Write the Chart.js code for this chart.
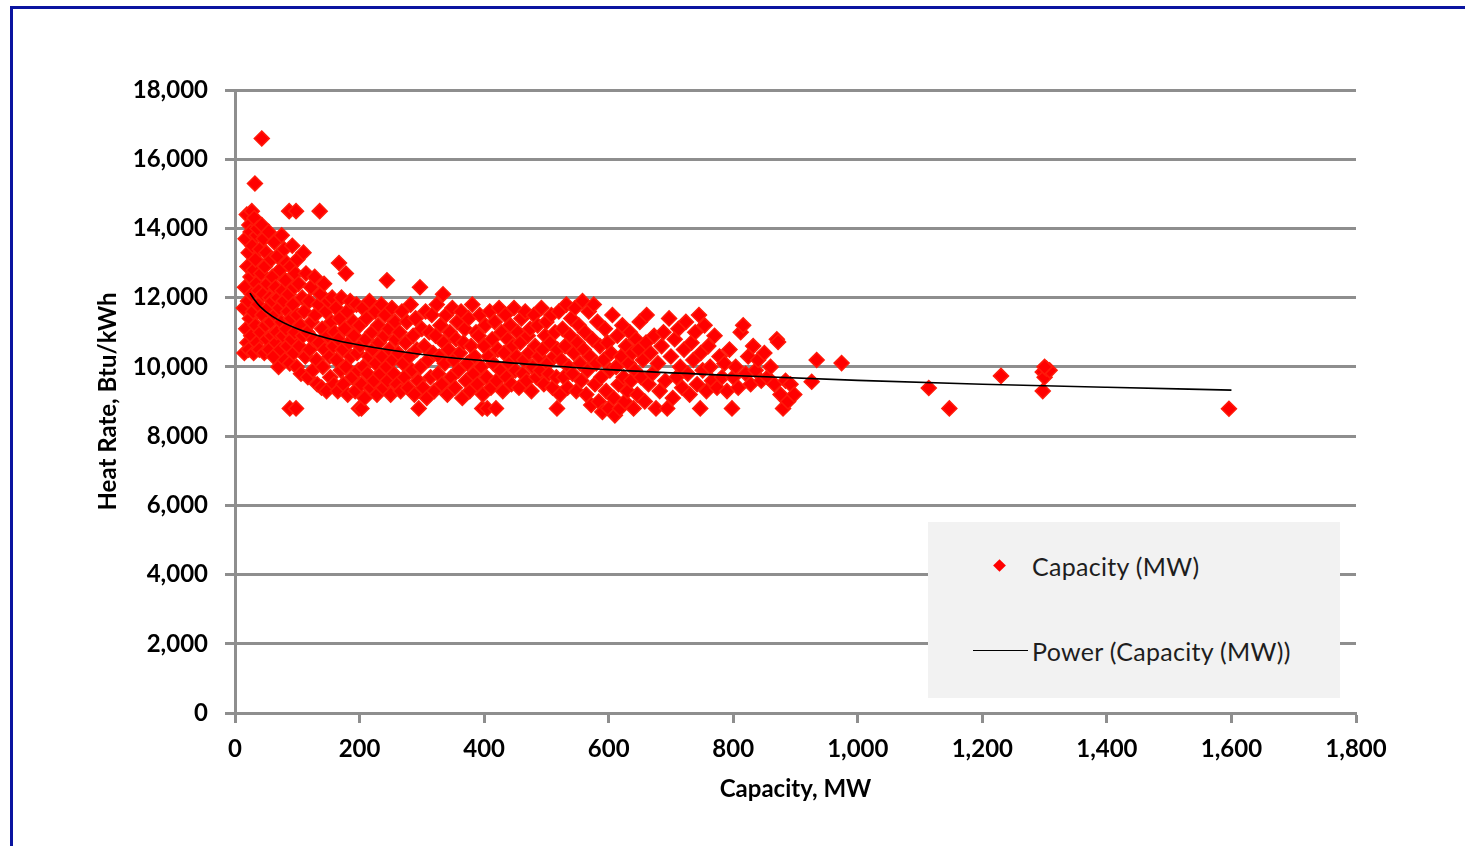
<!DOCTYPE html>
<html>
<head>
<meta charset="utf-8">
<title>Heat Rate vs Capacity</title>
<script src="https://cdn.jsdelivr.net/npm/chart.js@4.4.1/dist/chart.umd.min.js"></script>
<style>
  html, body { margin: 0; padding: 0; background: #fff; overflow: hidden; }
  #frame {
    position: absolute; left: 10px; top: 6px; width: 1500px; height: 900px;
    border: 3px solid #0a14a0; pointer-events: none;
  }
  #wrap { position: absolute; left: 0; top: 0; width: 1465px; height: 846px; }
  #legend {
    position: absolute; left: 928px; top: 522px; width: 412px; height: 176px;
    background: #f2f2f2; font-family: Lato, "Open Sans", sans-serif; font-size: 25px; color: #1e1e1e;
  }
  .item { position: absolute; left: 0; height: 30px; width: 100%; }
  .item .txt { position: absolute; left: 104px; top: 0; line-height: 30px; white-space: nowrap; letter-spacing: 0.3px; }
  .item .diamond {
    position: absolute; left: 67px; top: 10px; width: 9px; height: 9px;
    background: #ff0000; transform: rotate(45deg);
  }
  .item .line { position: absolute; left: 45px; top: 14px; width: 55px; height: 1px; background: #000; }
</style>
</head>
<body>
<div id="wrap"><canvas id="chart" width="1465" height="846"></canvas></div>
<div id="legend"></div>
<div id="frame"></div>
<script>
// Axis setup
const xTicksMax = 1800, xStep = 200;
const yTicksMax = 18000, yStep = 2000;

// Plants, [capacity MW, heat rate Btu/kWh]
const unitsUpTo60 = [
  [14,11700],[15,10400],[16,12300],[17,13700],[18,11100],[19,14400],[20,10700],[20,12900],
  [21,11900],[22,13300],[22,10500],[23,14100],[24,11400],[25,12600],[25,13900],[26,10900],
  [27,12100],[27,14500],[28,13500],[29,11600],[30,10400],[30,12800],[31,14300],[32,15300],
  [33,11200],[33,13100],[34,12400],[35,10700],[35,13800],[36,14000],[37,11800],[38,12200],
  [39,10500],[40,13400],[41,11000],[42,12700],[43,16600],[43,14100],[44,11500],[45,12100],
  [46,13700],[47,10400],[48,12900],[49,11200],[50,13300],[51,10800],[52,12400],[53,11700],
  [54,13900],[55,10500],[56,12000],[57,11300],[58,13100],[59,10900],[60,12600],[60,11900]
];
const units61to160 = [
  [62,10300],[63,13600],[64,11500],[65,12300],[66,10700],[67,11000],[68,13200],[69,12000],
  [70,10000],[71,11700],[72,12800],[73,10500],[74,11300],[75,13800],[76,12200],[77,10900],
  [78,11900],[79,13400],[80,10200],[81,12500],[82,11100],[83,13000],[84,10600],[85,11600],
  [86,12100],[87,14500],[88,8800],[88,10100],[89,12900],[90,11400],[91,10800],[92,13500],
  [93,11800],[94,10400],[95,12300],[96,11000],[97,12700],[98,14500],[98,8800],[99,10000],
  [100,11500],[100,13100],[102,12400],[103,10600],[105,11200],[106,9800],[108,12000],[109,10900],
  [110,13300],[111,11600],[113,10300],[114,12700],[116,11000],[117,9700],[119,11900],[120,10500],
  [122,12300],[123,11300],[125,9900],[126,10800],[128,12600],[129,11500],[131,10200],[132,9500],
  [134,11800],[135,10700],[136,14500],[137,12100],[139,9400],[140,11100],[141,10000],[143,12400],
  [144,10500],[146,11600],[147,9300],[149,10900],[150,11900],[152,10300],[153,9700],[155,11300],
  [156,12000],[158,10600],[159,9500],[160,11000]
];
const units161to260 = [
  [162,11700],[163,10200],[165,9300],[166,10800],[167,13000],[168,11400],[170,9900],[171,12000],
  [173,10500],[174,9500],[176,11100],[178,12700],[178,10000],[180,11600],[181,9200],[183,10700],
  [185,11900],[186,10300],[188,9700],[190,11300],[191,10900],[193,9300],[195,11800],[196,10400],
  [198,9900],[199,8800],[200,11200],[201,10600],[203,9500],[203,8800],[205,11700],[206,10000],
  [208,9100],[210,10800],[211,11400],[213,9800],[215,10300],[216,11900],[218,9400],[220,11000],
  [221,10500],[223,9600],[225,11600],[226,10100],[228,9200],[230,11200],[231,10700],[233,9800],
  [235,11800],[236,10300],[238,9400],[240,10900],[241,11500],[243,10000],[244,12500],[245,9600],
  [247,11100],[248,10500],[250,9200],[252,11700],[253,10200],[255,9800],[257,11300],[258,10800],
  [260,9500]
];
const units261to400 = [
  [262,10400],[264,11000],[266,9300],[268,11600],[270,10100],[272,9700],[274,10700],[276,11300],
  [278,9400],[280,10300],[282,11800],[284,9900],[286,10900],[288,9200],[290,11400],[292,10500],
  [294,9600],[295,8800],[297,12300],[298,10000],[300,11100],[302,9400],[304,10600],[306,11600],
  [308,9100],[310,10200],[312,11000],[314,9700],[316,11500],[318,10400],[320,9300],[322,10900],
  [324,11800],[326,9800],[328,10300],[330,11200],[332,9500],[334,12100],[335,10700],[337,10100],
  [339,11500],[341,9200],[343,10500],[345,11000],[347,9700],[349,11700],[351,10200],[353,9400],
  [355,10800],[357,11300],[359,9900],[361,10400],[363,11600],[365,9100],[367,10700],[369,11100],
  [371,9600],[373,10100],[375,11400],[377,9300],[379,10600],[381,11800],[383,9800],[385,10300],
  [387,11000],[389,9500],[391,10900],[393,11500],[395,10000],[397,8800],[398,9200],[400,10600]
];
const units401to520 = [
  [402,11200],[404,9700],[405,8800],[407,10300],[409,11600],[411,9400],[413,10800],[415,10100],
  [417,11300],[419,8800],[420,9600],[422,10500],[424,11700],[426,9900],[428,11000],[430,9300],
  [432,10400],[434,11500],[436,9700],[438,10800],[440,10100],[442,11200],[444,9500],[446,10600],
  [448,11700],[450,9900],[452,10300],[454,11000],[456,9400],[458,10700],[460,11400],[462,9800],
  [464,10200],[466,11600],[468,9600],[470,10900],[472,10400],[474,11100],[476,9300],[478,10000],
  [480,11500],[482,10600],[484,9700],[486,11200],[488,10300],[490,9900],[492,11700],[494,10500],
  [496,9500],[498,10900],[500,11300],[502,10100],[504,9800],[506,10700],[508,11500],[510,9400],
  [512,10300],[514,11000],[516,9700],[517,8800],[518,10500],[520,11600]
];
const units521to660 = [
  [522,9200],[524,10200],[526,11100],[528,9700],[530,10600],[532,11800],[534,9400],[536,10000],
  [538,10900],[540,11400],[542,9800],[544,10400],[546,11700],[548,9300],[550,10700],[552,11200],
  [554,10100],[556,9600],[558,11900],[560,10500],[562,11000],[564,9200],[566,9900],[568,11600],
  [570,10300],[572,8900],[574,10800],[576,11800],[578,9500],[580,10100],[582,11300],[584,9000],
  [586,10600],[588,9700],[590,8700],[592,10200],[594,11100],[596,9300],[598,10700],[600,8800],
  [602,9900],[604,10400],[606,11500],[608,9100],[610,8600],[612,10000],[614,10900],[616,9500],
  [618,8800],[620,10300],[622,11200],[624,9700],[626,9000],[628,10600],[630,9300],[632,10100],
  [634,11000],[636,9600],[638,10400],[640,8800],[642,9900],[644,10800],[646,9200],[648,10500],
  [650,11300],[652,9700],[655,10200],[658,9000],[660,10700]
];
const units661to1000 = [
  [661,11500],[664,9500],[667,10400],[670,9800],[673,10900],[676,8800],[679,10100],[682,9300],
  [685,10600],[688,11000],[691,9600],[694,8800],[697,11400],[700,10300],[703,9100],[706,10800],
  [709,9700],[712,11100],[715,10000],[718,9400],[721,10500],[724,11300],[727,9800],[730,9200],
  [733,10700],[736,10200],[739,11000],[742,9500],[745,11500],[747,8800],[748,10400],[751,9900],
  [754,11200],[757,9300],[760,10600],[763,10000],[766,9600],[770,10900],[774,9400],[778,10300],
  [782,9700],[786,10100],[790,9300],[794,10500],[798,8800],[800,9700],[804,10000],[808,9400],
  [812,11000],[816,11200],[820,9800],[824,10300],[828,9500],[832,10600],[836,9900],[840,10200],
  [845,9600],[850,10400],[855,9700],[860,10000],[866,9500],[870,10800],[872,10720],[876,9200],
  [880,8800],[884,9600],[888,9000],[892,9500],[898,9200],[926,9570],[934,10200],[974,10110]
];
const unitsOver1000 = [
  [1114,9390],[1147,8800],[1230,9740],[1297,9300],[1297,9850],[1300,9700],[1303,9950],
  [1308,9900],[1300,10000],[1596,8790]
];

// Power trend line
const trendCapacity = [24, 30, 40, 60, 100, 150, 200, 300, 400, 500, 600, 800, 1000, 1200, 1400, 1600];
const trendHeatRate = [12130, 11970, 11750, 11460, 11100, 10820, 10630, 10360, 10180, 10040, 9920, 9750, 9610, 9500, 9410, 9330];

const plants = [].concat(unitsUpTo60, units61to160, units161to260, units261to400,
  units401to520, units521to660, units661to1000, unitsOver1000);

const tickFont = { family: 'Lato, "Open Sans", sans-serif', size: 24, weight: 'bold' };
const gridColor = '#8e8e8e';

const chart = new Chart(document.getElementById('chart'), {
  type: 'scatter',
  data: {
    datasets: [
      {
        type: 'line',
        label: 'Power (Capacity (MW))',
        data: trendCapacity.map((x, i) => ({ x: x, y: trendHeatRate[i] })),
        borderColor: '#000000',
        borderWidth: 1.6,
        pointRadius: 0,
        tension: 0.4,
        cubicInterpolationMode: 'monotone',
        fill: false,
        order: 0
      },
      {
        label: 'Capacity (MW)',
        data: plants.map(p => ({ x: p[0], y: p[1] })),
        pointStyle: 'rectRot',
        pointRadius: 7.5,
        pointBorderWidth: 1.5,
        backgroundColor: '#ff0000',
        borderColor: '#ff1a0a',
        order: 1
      }
    ]
  },
  options: {
    responsive: false,
    animation: false,
    events: [],
    layout: { padding: { left: 94, top: 90, right: 109, bottom: 38 } },
    plugins: { legend: { display: false }, tooltip: { enabled: false } },
    scales: {
      x: {
        type: 'linear',
        min: 0, max: xTicksMax,
        ticks: { stepSize: xStep, color: '#000', font: tickFont, padding: 12, maxRotation: 0 },
        grid: { drawOnChartArea: false, drawTicks: true, tickLength: 10, tickWidth: 3, tickColor: gridColor },
        border: { color: gridColor, width: 3 },
        title: { display: true, text: 'Capacity, MW', color: '#000', font: tickFont, padding: { top: 4, bottom: 4 } },
        afterFit: s => { s.height = 95; }
      },
      y: {
        type: 'linear',
        min: 0, max: yTicksMax,
        ticks: { stepSize: yStep, color: '#000', font: tickFont, padding: 17 },
        grid: { color: gridColor, lineWidth: 3, drawTicks: true, tickLength: 10 },
        border: { color: gridColor, width: 3 },
        title: { display: true, text: 'Heat Rate, Btu/kWh', color: '#000', font: tickFont, padding: { top: 0, bottom: 0 } },
        afterFit: s => { s.width = 141; }
      }
    }
  }
});

// legend box built from the datasets
const legend = document.getElementById('legend');
const rows = [chart.data.datasets[1], chart.data.datasets[0]];
rows.forEach((ds, i) => {
  const item = document.createElement('div');
  item.className = 'item';
  item.style.top = (i === 0 ? 29 : 114) + 'px';
  const mark = document.createElement('div');
  mark.className = ds.type === 'line' ? 'line' : 'diamond';
  const txt = document.createElement('div');
  txt.className = 'txt';
  txt.textContent = ds.label;
  item.appendChild(mark);
  item.appendChild(txt);
  legend.appendChild(item);
});
</script>
</body>
</html>
